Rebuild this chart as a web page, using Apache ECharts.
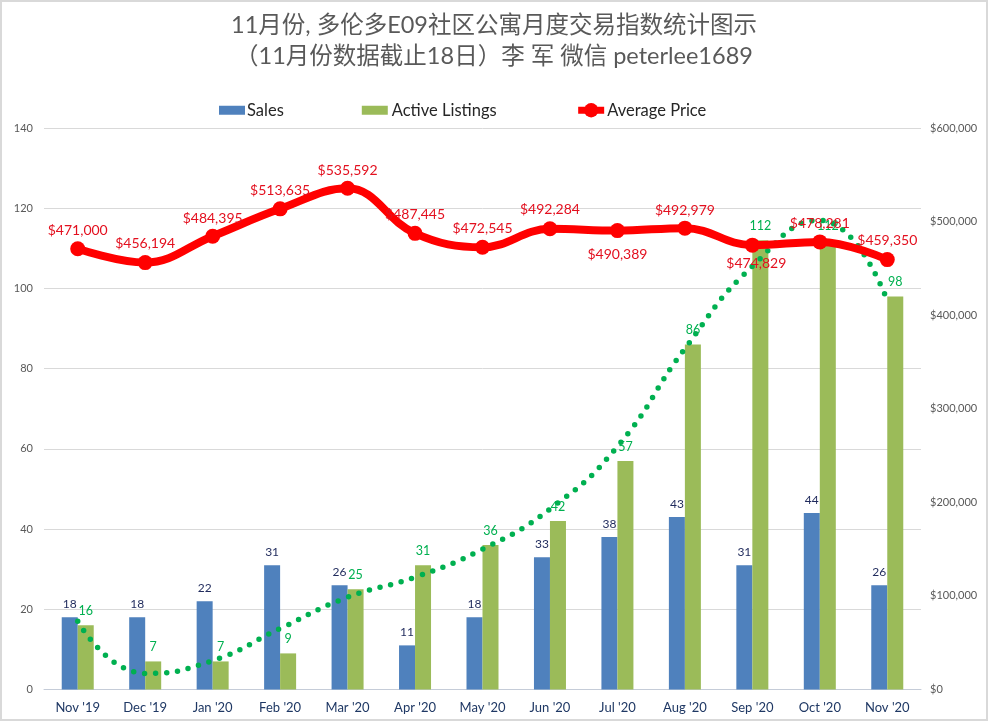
<!DOCTYPE html>
<html>
<head>
<meta charset="utf-8">
<script src="https://cdn.jsdelivr.net/npm/echarts@6/dist/echarts.min.js"></script>
<style>
    html, body { margin: 0; padding: 0; background: #fff; }
    #main { width: 984px; height: 717px; border: 2px solid #d9d9d9; }
</style>
</head>
<body>
<div id="main"></div>
<script type="text/javascript">
    var months = ["Nov '19", "Dec '19", "Jan '20", "Feb '20", "Mar '20", "Apr '20", "May '20", "Jun '20", "Jul '20", "Aug '20", "Sep '20", "Oct '20", "Nov '20"];
    var sales = [18, 18, 22, 31, 26, 11, 18, 33, 38, 43, 31, 44, 26];
    var listings = [16, 7, 7, 9, 25, 31, 36, 42, 57, 86, 112, 112, 98];
    var avgPrice = [471000, 456194, 484395, 513635, 535592, 487445, 472545, 492284, 490389, 492979, 474829, 478281, 459350];
    // dotted trend line
    var listingsTrend = [17, 4, 7.2, 15.2, 23, 28, 35, 45, 60.6, 85, 105.5, 117, 97];

    // where each price label sits relative to its point
    var priceLabelOffset = [[0, -18], [0, -19], [0, -18], [0, -18], [0, -18], [0, -19], [0, -19], [0, -19], [0, 24], [0, -18], [4, 18], [0, -18], [0, -19]];

    var fontName = 'Lato, "Noto Sans CJK SC", sans-serif';
    var swatch = 'path://M0 0H26V9H0Z';

    var myChart = echarts.init(document.getElementById('main'));
    var option = {
        animation: false,
        textStyle: { fontFamily: fontName },
        title: {
            text: '11月份, 多伦多E09社区公寓月度交易指数统计图示\n（11月份数据截止18日）李 军 微信 peterlee1689',
            left: 'center',
            top: 3,
            textStyle: { fontSize: 23.5, fontWeight: 'normal', color: '#595959', lineHeight: 31, fontFamily: fontName }
        },
        legend: {
            data: [
                { name: 'Sales', icon: swatch, textStyle: { padding: [0, 5, 0, -3] } },
                { name: 'Active Listings', icon: swatch, textStyle: { padding: [0, -8, 0, -1] } },
                { name: 'Average Price', textStyle: { padding: [0, 0, 0, -2] } }
            ],
            top: 95,
            left: 212,
            itemWidth: 26,
            itemHeight: 18,
            itemGap: 78,
            lineStyle: { width: 7 },
            textStyle: { fontSize: 16.5, color: '#262626' }
        },
        grid: { left: 42, width: 877, top: 126, height: 561.5 },
        xAxis: {
            type: 'category',
            data: months,
            axisTick: { show: false },
            axisLine: { lineStyle: { color: '#c5ccd8' } },
            axisLabel: { color: '#1f3864', fontSize: 13, margin: 12, interval: 0 }
        },
        yAxis: [
            {
                type: 'value',
                min: 0,
                max: 140,
                interval: 20,
                axisLabel: { color: '#595959', fontSize: 11, margin: 11 },
                splitLine: { lineStyle: { color: '#d9d9d9' } }
            },
            {
                type: 'value',
                min: 0,
                max: 600000,
                interval: 100000,
                axisLabel: {
                    color: '#595959',
                    fontSize: 11,
                    margin: 9,
                    formatter: function (v) { return '$' + v.toLocaleString('en-US'); }
                },
                splitLine: { show: false }
            }
        ],
        series: [
            {
                name: 'Sales',
                type: 'bar',
                data: sales,
                barWidth: 16,
                barGap: 0,
                itemStyle: { color: '#4f81bd' },
                label: { show: true, position: 'top', distance: 7, fontSize: 12, color: '#1f2a5c' }
            },
            {
                name: 'Active Listings',
                type: 'bar',
                data: listings,
                barWidth: 16,
                itemStyle: { color: '#9bbb59' },
                label: { show: true, position: 'top', distance: 8, fontSize: 12.5, color: '#00b050' }
            },
            {
                name: 'Trend',
                type: 'line',
                data: listingsTrend,
                smooth: 0.5,
                symbol: 'none',
                z: 3,
                lineStyle: { color: '#00b050', width: 5.5, type: [0, 11], cap: 'round' }
            },
            {
                name: 'Average Price',
                type: 'line',
                yAxisIndex: 1,
                data: avgPrice.map(function (v, i) {
                    return { value: v, label: { offset: priceLabelOffset[i] } };
                }),
                smooth: 0.4,
                symbol: 'circle',
                symbolSize: 15,
                z: 4,
                itemStyle: { color: '#ff0000' },
                lineStyle: { color: '#ff0000', width: 8 },
                label: {
                    show: true,
                    position: 'inside',
                    fontSize: 14,
                    color: '#e3101f',
                    formatter: function (p) { return '$' + p.value.toLocaleString('en-US'); }
                }
            }
        ]
    };
    myChart.setOption(option);
</script>
</body>
</html>
